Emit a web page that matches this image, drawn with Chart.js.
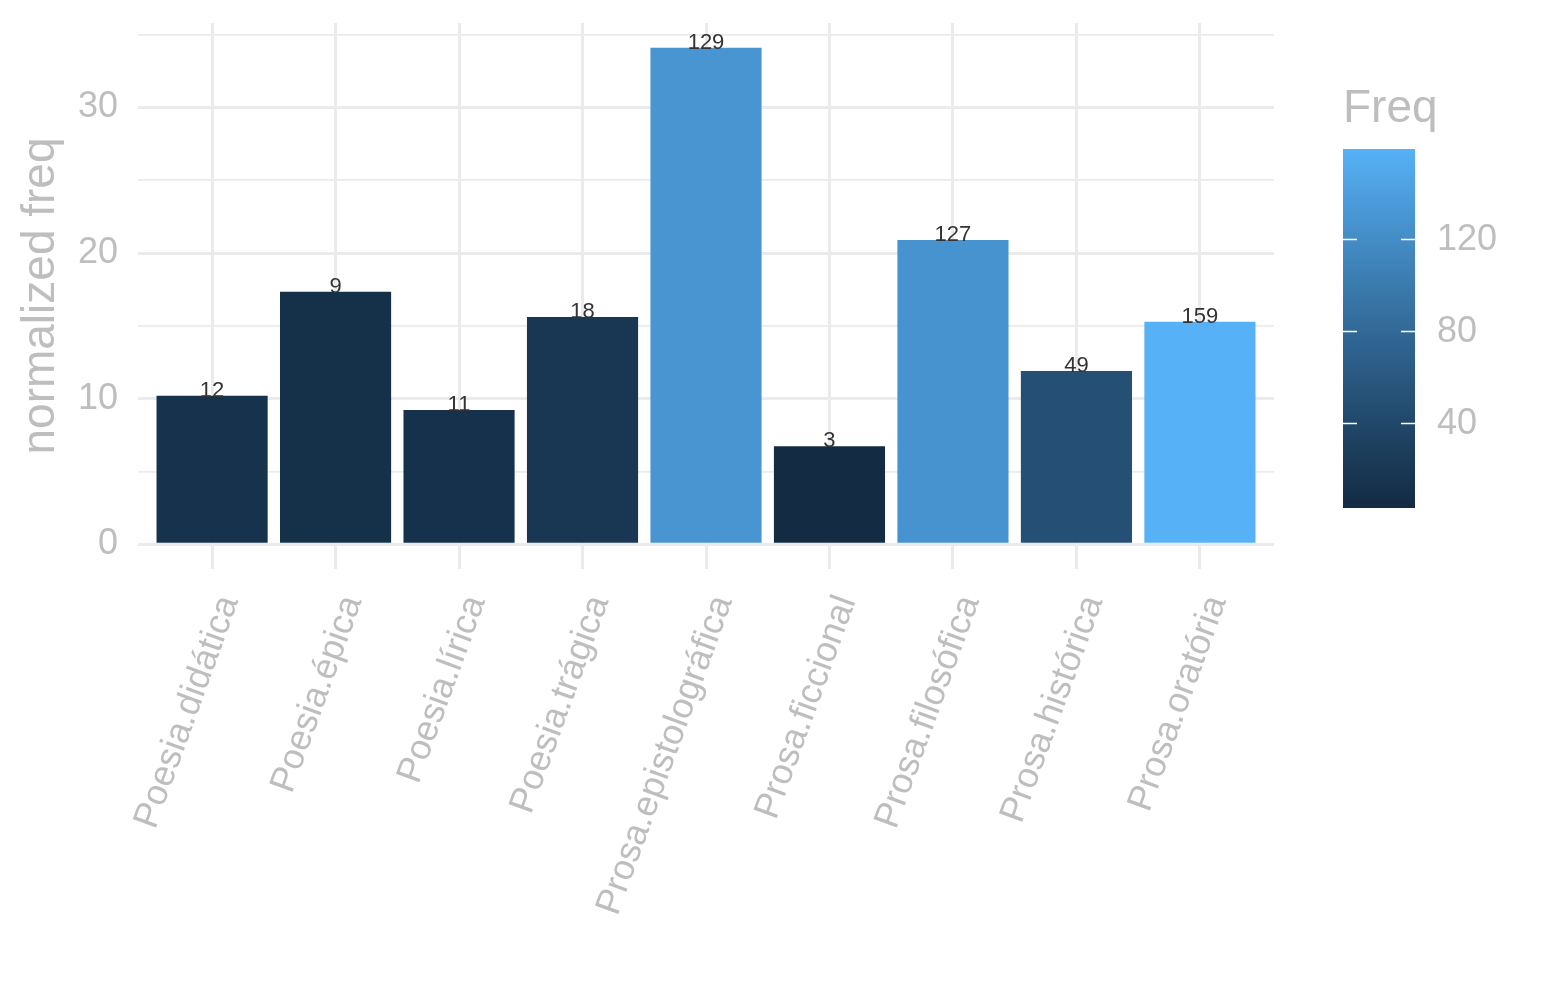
<!DOCTYPE html>
<html>
<head>
<meta charset="utf-8">
<script src="https://cdn.jsdelivr.net/npm/chart.js@4.4.1/dist/chart.umd.min.js"></script>
<style>
  html, body { margin: 0; padding: 0; background: #fff; }
  #wrap { width: 1545px; height: 1000px; }
</style>
</head>
<body>
<div id="wrap"><canvas id="chart" width="1545" height="1000"></canvas></div>
<script>
/* ================= DATA ================= */
const categories = [
  "Poesia.didática", "Poesia.épica", "Poesia.lírica", "Poesia.trágica",
  "Prosa.epistolográfica", "Prosa.ficcional", "Prosa.filosófica",
  "Prosa.histórica", "Prosa.oratória"
];
const normFreq = [10.19, 17.34, 9.22, 15.61, 34.1, 6.73, 20.9, 11.9, 15.28];
const freq = [12, 9, 11, 18, 129, 3, 127, 49, 159];
const yTicks = [0, 5, 10, 15, 20, 25, 30, 35];
const yLabels = [0, 10, 20, 30];
const legendTicks = [40, 80, 120];

/* ================= STYLE ================= */
const FONT = "'Liberation Sans', Arial, Helvetica, sans-serif";
const TEXT_GREY = "#BEBEBE";
const GRID = "#EBEBEB";
const LOW = "#132B43";
const HIGH = "#56B1F7";

/* ================= COLOUR SCALE (Lab, like ggplot) ================= */
function hexToRgb(h) {
  return [1, 3, 5].map(i => parseInt(h.substr(i, 2), 16));
}
function toLin(c) {
  c /= 255;
  return c <= 0.04045 ? c / 12.92 : Math.pow((c + 0.055) / 1.055, 2.4);
}
function fromLin(c) {
  const v = c <= 0.0031308 ? 12.92 * c : 1.055 * Math.pow(c, 1 / 2.4) - 0.055;
  return Math.max(0, Math.min(255, Math.round(v * 255)));
}
function rgbToLab(rgb) {
  const [r, g, b] = rgb.map(toLin);
  const X = (0.4124564 * r + 0.3575761 * g + 0.1804375 * b) / 0.95047;
  const Y = 0.2126729 * r + 0.7151522 * g + 0.0721750 * b;
  const Z = (0.0193339 * r + 0.1191920 * g + 0.9503041 * b) / 1.08883;
  const f = t => t > 0.008856 ? Math.cbrt(t) : 7.787 * t + 16 / 116;
  const fx = f(X), fy = f(Y), fz = f(Z);
  return [116 * fy - 16, 500 * (fx - fy), 200 * (fy - fz)];
}
function labToRgb(lab) {
  const fy = (lab[0] + 16) / 116;
  const fx = fy + lab[1] / 500;
  const fz = fy - lab[2] / 200;
  const inv = t => t > 0.206893 ? t * t * t : (t - 16 / 116) / 7.787;
  const X = inv(fx) * 0.95047, Y = inv(fy), Z = inv(fz) * 1.08883;
  const r = 3.2404542 * X - 1.5371385 * Y - 0.4985314 * Z;
  const g = -0.9692660 * X + 1.8760108 * Y + 0.0415560 * Z;
  const b = 0.0556434 * X - 0.2040259 * Y + 1.0572252 * Z;
  return [fromLin(r), fromLin(g), fromLin(b)];
}
const labLow = rgbToLab(hexToRgb(LOW));
const labHigh = rgbToLab(hexToRgb(HIGH));
const freqMin = Math.min(...freq);
const freqMax = Math.max(...freq);

function colorFor(v) {
  const t = (v - freqMin) / (freqMax - freqMin);
  const lab = labLow.map((c, i) => c + (labHigh[i] - c) * t);
  const [r, g, b] = labToRgb(lab);
  return `rgb(${r},${g},${b})`;
}

/* ================= Y RANGE (5% expansion) ================= */
const yMaxData = Math.max(...normFreq);
const yPad = yMaxData * 0.05;

/* ================= PLUGINS ================= */
const barLabels = {
  id: "barLabels",
  afterDatasetsDraw(chart) {
    const { ctx } = chart;
    const meta = chart.getDatasetMeta(0);
    ctx.save();
    ctx.font = `22px ${FONT}`;
    ctx.fillStyle = "#333333";
    ctx.textAlign = "center";
    ctx.textBaseline = "alphabetic";
    meta.data.forEach((bar, i) => {
      ctx.fillText(String(freq[i]), bar.x, bar.y + 1);
    });
    ctx.restore();
  }
};

const colorbar = {
  id: "colorbar",
  afterDraw(chart) {
    const { ctx } = chart;
    const left = 1343, right = 1415, top = 149, bottom = 508;
    const toY = v => bottom - (v - freqMin) / (freqMax - freqMin) * (bottom - top);
    ctx.save();

    ctx.font = `46px ${FONT}`;
    ctx.fillStyle = TEXT_GREY;
    ctx.textAlign = "left";
    ctx.textBaseline = "alphabetic";
    ctx.fillText("Freq", left, 122);

    const grad = ctx.createLinearGradient(0, bottom, 0, top);
    for (let k = 0; k <= 20; k++) {
      grad.addColorStop(k / 20, colorFor(freqMin + (freqMax - freqMin) * k / 20));
    }
    ctx.fillStyle = grad;
    ctx.fillRect(left, top, right - left, bottom - top);

    ctx.strokeStyle = "#ffffff";
    ctx.lineWidth = 1.5;
    ctx.font = `36px ${FONT}`;
    ctx.fillStyle = TEXT_GREY;
    ctx.textBaseline = "middle";
    legendTicks.forEach(v => {
      const y = Math.round(toY(v)) + 0.5;
      ctx.beginPath();
      ctx.moveTo(left, y); ctx.lineTo(left + 14, y);
      ctx.moveTo(right - 14, y); ctx.lineTo(right, y);
      ctx.stroke();
      ctx.fillText(String(v), 1437, y + 1);
    });
    ctx.restore();
  }
};

/* ================= CHART ================= */
const chart = new Chart(document.getElementById("chart"), {
  type: "bar",
  data: {
    datasets: [{
      label: "normalized freq",
      data: normFreq.map((v, i) => ({ x: i + 1, y: v })),
      backgroundColor: freq.map(colorFor),
      borderWidth: 0,
      barPercentage: 0.9,
      categoryPercentage: 1.0
    }]
  },
  options: {
    responsive: false,
    animation: false,
    layout: { padding: { top: 23, right: 271, left: 0, bottom: 0 } },
    plugins: {
      legend: { display: false },
      tooltip: { enabled: false }
    },
    scales: {
      x: {
        type: "linear",
        offset: false,
        min: 0.4,
        max: categories.length + 0.6,
        afterBuildTicks(s) { s.ticks = categories.map((c, i) => ({ value: i + 1 })); },
        afterFit(s) { s.height = 431; s.paddingLeft = 0; s.paddingRight = 0; },
        border: { display: false },
        grid: { color: GRID, lineWidth: 3, drawTicks: false, offset: false },
        ticks: {
          autoSkip: false,
          minRotation: 70,
          maxRotation: 70,
          padding: 21,
          labelOffset: 17,
          color: TEXT_GREY,
          font: { family: FONT, size: 36 },
          callback: v => categories[v - 1]
        }
      },
      y: {
        min: -yPad,
        max: yMaxData + yPad,
        afterBuildTicks(s) { s.ticks = yTicks.map(v => ({ value: v })); },
        afterFit(s) { s.width = 138; s.paddingTop = 0; s.paddingBottom = 0; },
        border: { display: false },
        grid: {
          color: GRID,
          drawTicks: false,
          lineWidth: c => (yLabels.includes(c.tick.value) ? 3 : 1.7)
        },
        ticks: {
          padding: 20,
          color: TEXT_GREY,
          font: { family: FONT, size: 36 },
          callback: v => (yLabels.includes(v) ? String(v) : "")
        },
        title: {
          display: true,
          text: "normalized freq",
          color: TEXT_GREY,
          font: { family: FONT, size: 46 },
          padding: { top: 14, bottom: 0 }
        }
      }
    }
  },
  plugins: [barLabels, colorbar]
});
</script>
</body>
</html>
